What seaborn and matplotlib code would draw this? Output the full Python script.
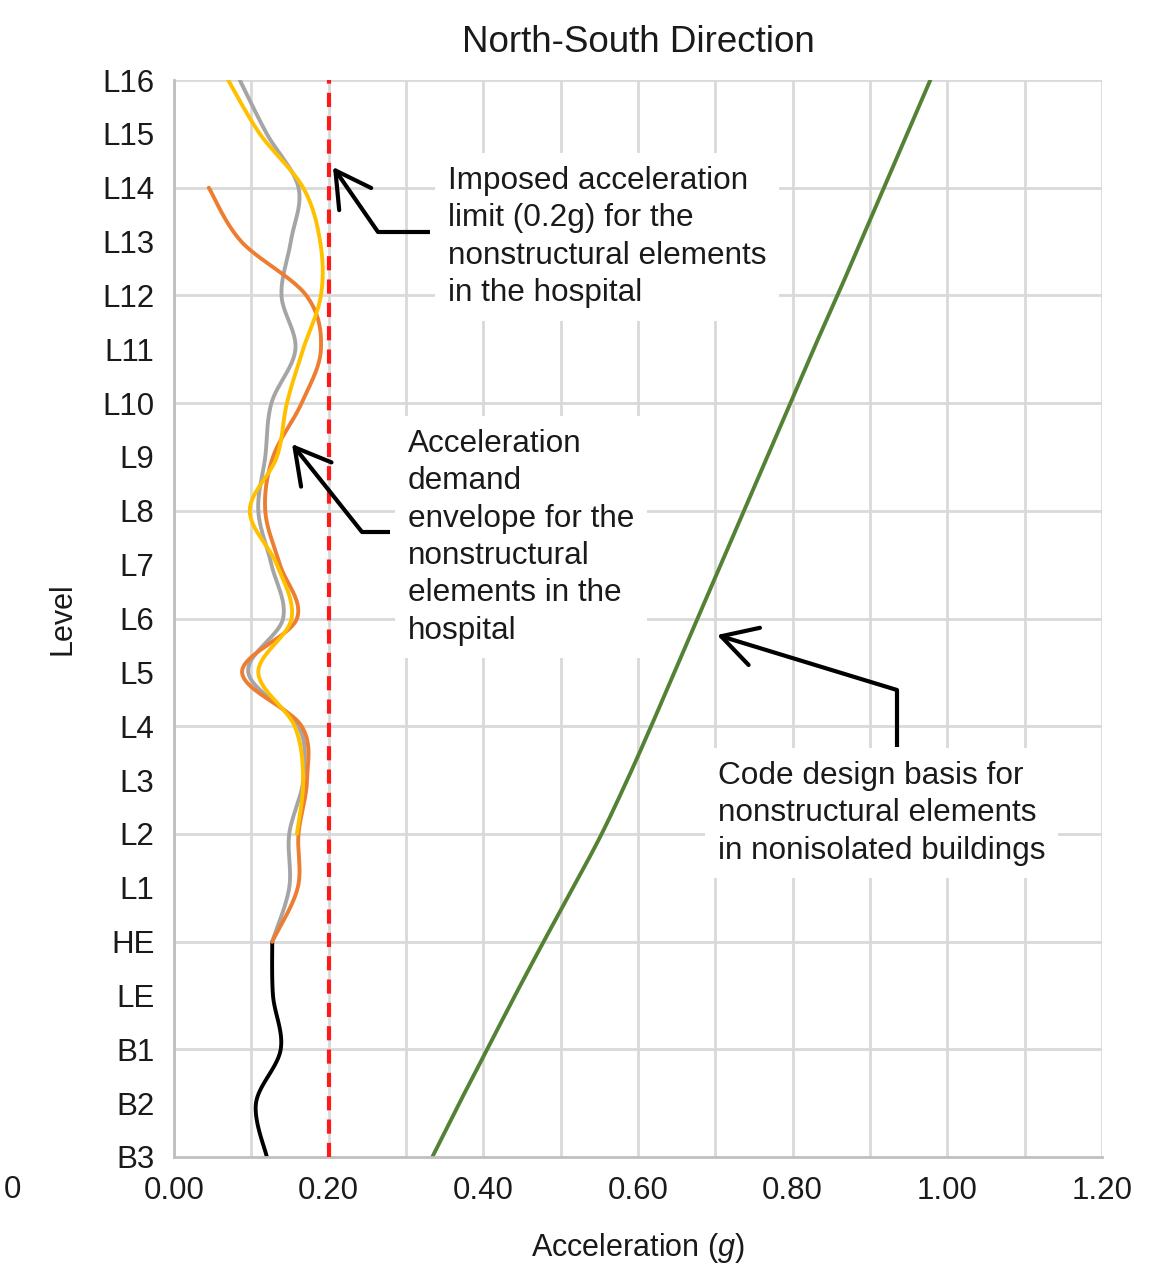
import numpy as np
import matplotlib
matplotlib.use("Agg")
import matplotlib.pyplot as plt
import seaborn as sns

# Levels from bottom to top
levels = ["B3", "B2", "B1", "LE", "HE", "L1", "L2", "L3", "L4", "L5", "L6",
          "L7", "L8", "L9", "L10", "L11", "L12", "L13", "L14", "L15", "L16"]

# Acceleration demand (g)
gray_levels = ["HE", "L1", "L2", "L3", "L4", "L5", "L6", "L7", "L8", "L9",
               "L10", "L11", "L12", "L13", "L14", "L15", "L16"]
gray_acc = [0.127, 0.149, 0.149, 0.167, 0.161, 0.096, 0.141, 0.126, 0.109,
            0.118, 0.126, 0.157, 0.139, 0.151, 0.161, 0.120, 0.085]

orange_levels = ["HE", "L1", "L2", "L3", "L4", "L5", "L6", "L7", "L8", "L9",
                 "L10", "L11", "L12", "L13", "L14"]
orange_acc = [0.127, 0.160, 0.161, 0.172, 0.165, 0.088, 0.159, 0.137, 0.118,
              0.128, 0.165, 0.190, 0.171, 0.087, 0.045]

yellow_levels = ["L2", "L3", "L4", "L5", "L6", "L7", "L8", "L9", "L10",
                 "L11", "L12", "L13", "L14", "L15", "L16"]
yellow_acc = [0.159, 0.167, 0.156, 0.109, 0.152, 0.133, 0.098, 0.133, 0.146,
              0.167, 0.190, 0.189, 0.167, 0.111, 0.070]

black_levels = ["B3", "B2", "B1", "LE", "HE"]
black_acc = [0.120, 0.106, 0.138, 0.128, 0.127]

code_levels = levels
code_acc = [0.334, 0.369, 0.405, 0.441, 0.478, 0.516, 0.553, 0.586, 0.617,
            0.647, 0.677, 0.707, 0.737, 0.767, 0.797, 0.827, 0.858, 0.888,
            0.918, 0.948, 0.978]

limit_acc = 0.2

sns.set_theme(style="white")
plt.rcParams["font.family"] = ["Liberation Sans", "DejaVu Sans"]
plt.rcParams["mathtext.fontset"] = "custom"
plt.rcParams["mathtext.rm"] = "Liberation Sans"
plt.rcParams["mathtext.it"] = "Liberation Sans:italic"


def smooth(xs, lv, n=24):
    # Catmull-Rom smoothing, like a spreadsheet "smoothed line"
    ys = [levels.index(l) for l in lv]
    p = np.column_stack([xs, ys]).astype(float)
    p = np.vstack([p[0], p, p[-1]])
    out = []
    t = np.linspace(0, 1, n, endpoint=False)[:, None]
    for i in range(1, len(p) - 2):
        p0, p1, p2, p3 = p[i - 1], p[i], p[i + 1], p[i + 2]
        seg = 0.5 * ((2 * p1) + (-p0 + p2) * t + (2 * p0 - 5 * p1 + 4 * p2 - p3) * t ** 2
                     + (-p0 + 3 * p1 - 3 * p2 + p3) * t ** 3)
        out.append(seg)
    out.append(p[-2][None, :])
    out = np.vstack(out)
    return out[:, 0], out[:, 1]


fig = plt.figure(figsize=(11.69, 12.71), dpi=100)
ax = fig.add_axes([174 / 1169, 1 - 1157 / 1271, 928 / 1169, 1077 / 1271])

grid_c = "#d9d9d9"
ax.set_xlim(0, 1.2)
ax.set_ylim(0, 20)
ax.set_xticks(np.arange(0, 1.21, 0.2))
ax.set_xticks(np.arange(0.1, 1.21, 0.2), minor=True)
ax.set_xticklabels([f"{v:.2f}" for v in np.arange(0, 1.21, 0.2)])
ax.set_yticks(range(len(levels)))
ax.set_yticklabels(levels)
ax.grid(True, axis="x", which="both", color=grid_c, lw=2)
for k in range(2, 21, 2):
    ax.axhline(k, color=grid_c, lw=2, zorder=0.5)
ax.tick_params(axis="both", which="both", length=0, labelsize=22.5, colors="#1a1a1a")
ax.tick_params(axis="x", pad=14)
ax.tick_params(axis="y", pad=14)
for s in ["top", "right"]:
    ax.spines[s].set_visible(False)
for s in ["left", "bottom"]:
    ax.spines[s].set_color("#bfbfbf")
    ax.spines[s].set_linewidth(2)
ax.set_axisbelow(True)

lw = 2.8
for xs, lv, col in [(code_acc, code_levels, "#548235"),
                    (black_acc, black_levels, "#000000"),
                    (gray_acc, gray_levels, "#a5a5a5"),
                    (orange_acc, orange_levels, "#ed7d31"),
                    (yellow_acc, yellow_levels, "#ffc000")]:
    sx, sy = smooth(xs, lv)
    sns.lineplot(x=sx, y=sy, sort=False, estimator=None, color=col, lw=lw, ax=ax)

ax.axvline(limit_acc, color="#ff1a1a", lw=3, ls=(0, (3.4, 2.2)), zorder=3)

ax.set_title("North-South Direction", fontsize=26.5, pad=20, color="#1a1a1a")
ax.set_xlabel("Acceleration ($g$)", fontsize=22, labelpad=18, color="#1a1a1a")
ax.set_ylabel("Level", fontsize=22, labelpad=18, color="#1a1a1a")


def px(xp, yp):
    return (xp - 174) / (928 / 1.2), (1157 - yp) / (1077 / 20)


tfs = 22.7
box = dict(facecolor="white", edgecolor="none", pad=9)
ax.text(*px(448, 166), "Imposed acceleration\nlimit (0.2g) for the\nnonstructural elements\nin the hospital",
        fontsize=tfs, va="top", ha="left", linespacing=1.32, bbox=box, color="#1a1a1a", zorder=4)
ax.text(*px(408, 429), "Acceleration\ndemand\nenvelope for the\nnonstructural\nelements in the\nhospital",
        fontsize=tfs, va="top", ha="left", linespacing=1.32, bbox=box, color="#1a1a1a", zorder=4)
ax.text(*px(718, 761), "Code design basis for\nnonstructural elements\nin nonisolated buildings",
        fontsize=tfs, va="top", ha="left", linespacing=1.32, bbox=box, color="#1a1a1a", zorder=4)

# leader arrows
arrows = [((430, 232), (378, 232), (333, 167)),
          ((390, 532), (362, 532), (292, 444)),
          ((897, 747), (897, 690), (717, 635))]
for a, b, c in arrows:
    pa, pb, pc = px(*a), px(*b), px(*c)
    ax.plot([pa[0], pb[0]], [pa[1], pb[1]], color="black", lw=3, solid_capstyle="butt", zorder=5)
    ax.annotate("", xy=pc, xytext=pb,
                arrowprops=dict(arrowstyle="->,head_length=25,head_width=14",
                                mutation_scale=1, color="black", lw=3,
                                shrinkA=0, shrinkB=0), zorder=5)

fig.text(12 / 1169, 1 - 1190 / 1271, "0", fontsize=22.5, ha="center", va="center", color="#1a1a1a")

fig.savefig("out.png", dpi=100)
